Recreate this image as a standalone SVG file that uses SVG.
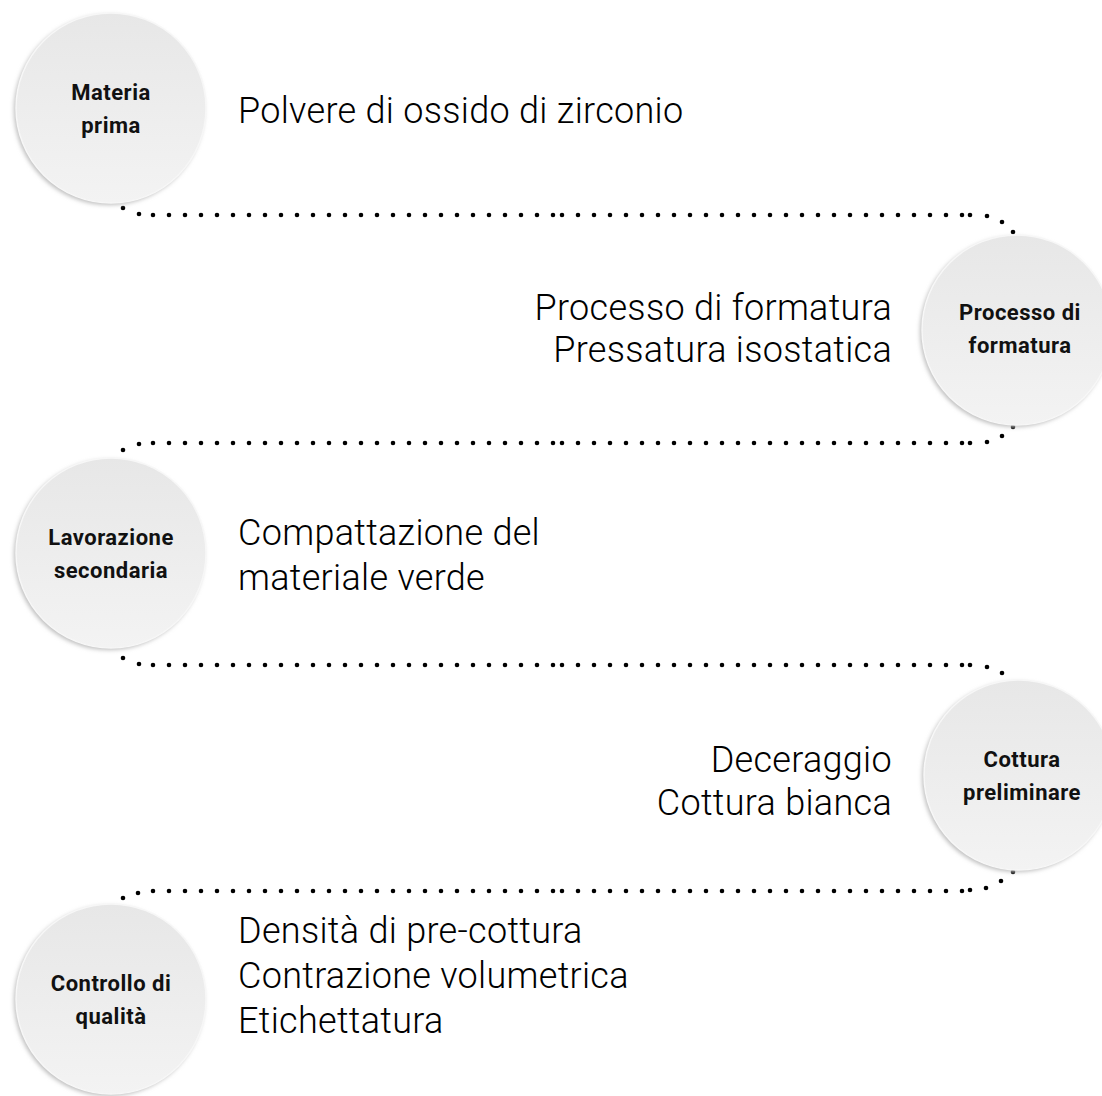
<svg xmlns="http://www.w3.org/2000/svg" width="1102" height="1096" viewBox="0 0 1102 1096">
<defs>
<linearGradient id="disc" x1="0" y1="0" x2="0" y2="1">
<stop offset="0" stop-color="#e7e7e7"/>
<stop offset="1" stop-color="#f3f3f3"/>
</linearGradient>
<filter id="sh" x="-20%" y="-20%" width="140%" height="140%">
<feGaussianBlur stdDeviation="2"/>
</filter>
<style>
.shadow{fill:#bdbdbd;filter:url(#sh)}
.disc{fill:url(#disc);stroke:#f7f7f7;stroke-width:1.5}
.lbl{font-family:Roboto,"Liberation Sans",sans-serif;font-weight:bold;font-size:22px;letter-spacing:0.5px;fill:#111;text-anchor:middle}
.body{font-family:Roboto,"Liberation Sans",sans-serif;font-weight:300;font-size:36px;letter-spacing:0.3px;fill:#000}
.r{text-anchor:end}
.dl{fill:none;stroke:#000;stroke-width:4.6;stroke-linecap:round;stroke-dasharray:0 16}
.d{fill:#000}
</style>
</defs>
<rect width="1102" height="1096" fill="#fff"/>

<g id="connectors">
<!-- line 1 -->
<circle class="d" cx="123" cy="208" r="2.3"/>
<circle class="d" cx="139" cy="214" r="2.3"/>
<path class="dl" d="M153,215 H553.5"/>
<path class="dl" d="M562,215 H962.5"/>
<circle class="d" cx="970" cy="215" r="2.3"/>
<circle class="d" cx="987" cy="216" r="2.3"/>
<circle class="d" cx="1002" cy="222" r="2.3"/>
<circle class="d" cx="1013" cy="232" r="2.3"/>
<!-- line 2 -->
<circle class="d" cx="1013" cy="427" r="2.3"/>
<circle class="d" cx="1002" cy="436" r="2.3"/>
<circle class="d" cx="987" cy="442" r="2.3"/>
<circle class="d" cx="970" cy="443" r="2.3"/>
<path class="dl" d="M153,443 H553.5"/>
<path class="dl" d="M562,443 H962.5"/>
<circle class="d" cx="139" cy="444" r="2.3"/>
<circle class="d" cx="123" cy="450" r="2.3"/>
<!-- line 3 -->
<circle class="d" cx="123" cy="658" r="2.3"/>
<circle class="d" cx="139" cy="664" r="2.3"/>
<path class="dl" d="M153,665 H553.5"/>
<path class="dl" d="M562,665 H962.5"/>
<circle class="d" cx="970" cy="665" r="2.3"/>
<circle class="d" cx="987" cy="667" r="2.3"/>
<circle class="d" cx="1002" cy="673" r="2.3"/>
<circle class="d" cx="1013" cy="683" r="2.3"/>
<!-- line 4 -->
<circle class="d" cx="1013" cy="872" r="2.3"/>
<circle class="d" cx="1001" cy="881" r="2.3"/>
<circle class="d" cx="986" cy="888" r="2.3"/>
<circle class="d" cx="970" cy="890" r="2.3"/>
<path class="dl" d="M153,891 H553.5"/>
<path class="dl" d="M562,891 H962.5"/>
<circle class="d" cx="138" cy="893" r="2.3"/>
<circle class="d" cx="123" cy="898" r="2.3"/>
</g>

<g id="node-materia">
<circle class="shadow" cx="109" cy="110" r="95"/>
<circle class="disc" cx="111" cy="108" r="95"/>
<text class="lbl" x="111" y="100">Materia</text>
<text class="lbl" x="111" y="133">prima</text>
<text class="body" x="238" y="123">Polvere di ossido di zirconio</text>
</g>

<g id="node-formatura">
<circle class="shadow" cx="1015" cy="332" r="95"/>
<circle class="disc" cx="1017" cy="330" r="95"/>
<text class="lbl" x="1020" y="320">Processo di</text>
<text class="lbl" x="1020" y="353">formatura</text>
<text class="body r" x="892" y="320">Processo di formatura</text>
<text class="body r" x="892" y="362">Pressatura isostatica</text>
</g>

<g id="node-lavorazione">
<circle class="shadow" cx="109" cy="555" r="95"/>
<circle class="disc" cx="111" cy="553" r="95"/>
<text class="lbl" x="111" y="545">Lavorazione</text>
<text class="lbl" x="111" y="578">secondaria</text>
<text class="body" x="238" y="545">Compattazione del</text>
<text class="body" x="238" y="590">materiale verde</text>
</g>

<g id="node-cottura">
<circle class="shadow" cx="1017" cy="777" r="95"/>
<circle class="disc" cx="1019" cy="775" r="95"/>
<text class="lbl" x="1022" y="767">Cottura</text>
<text class="lbl" x="1022" y="800">preliminare</text>
<text class="body r" x="892" y="772">Deceraggio</text>
<text class="body r" x="892" y="815">Cottura bianca</text>
</g>

<g id="node-controllo">
<circle class="shadow" cx="109" cy="1001" r="95"/>
<circle class="disc" cx="111" cy="999" r="95"/>
<text class="lbl" x="111" y="991">Controllo di</text>
<text class="lbl" x="111" y="1024">qualità</text>
<text class="body" x="238" y="943">Densità di pre-cottura</text>
<text class="body" x="238" y="988">Contrazione volumetrica</text>
<text class="body" x="238" y="1033">Etichettatura</text>
</g>
</svg>
